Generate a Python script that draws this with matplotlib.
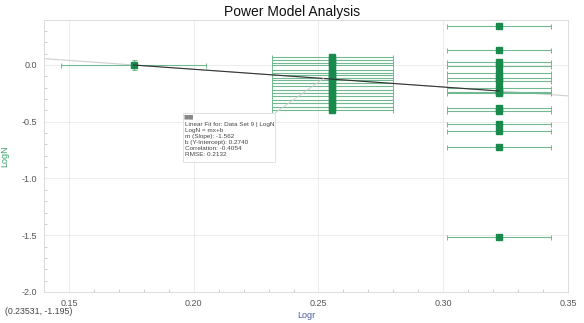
import numpy as np
import matplotlib
matplotlib.use('Agg')
import matplotlib.pyplot as plt
from matplotlib.ticker import MultipleLocator, FormatStrFormatter
from matplotlib.patches import Rectangle

plt.rcParams['font.family'] = ['Liberation Sans', 'DejaVu Sans']

# data
left_x = [0.1759]
left_y = [0.0]
left_xerr = [0.029]
left_yerr = [0.045]

mid_x = 0.2555
mid_xerr = 0.0242
mid_y = [0.068, 0.044, 0.020, -0.003, -0.044, -0.073, -0.090, -0.114, -0.132,
         -0.161, -0.190, -0.219, -0.248, -0.278, -0.307, -0.336, -0.371, -0.401]

right_x = 0.3225
right_xerr = 0.0208
right_y = [0.345, 0.13, 0.026, -0.013, -0.07, -0.118, -0.14, -0.2, -0.237,
           -0.25, -0.38, -0.41, -0.52, -0.58, -0.72, -1.52]

slope = -1.562
intercept = 0.2740
fit_text = ['Linear Fit for: Data Set 9 | LogN', 'LogN = mx+b',
            'm (Slope): -1.562', 'b (Y-Intercept): 0.2740',
            'Correlation: -0.4054', 'RMSE: 0.2132']
cursor = '(0.23531, -1.195)'

mark_col = '#178a4c'
err_col = '#72b890'

fig = plt.figure(figsize=(5.84, 3.23), dpi=100)
ax = fig.add_axes([0.0753, 0.096, 0.8973, 0.8436])
ax.set_xlim(0.14, 0.35)
ax.set_ylim(-2.0, 0.4)

ax.xaxis.set_major_locator(MultipleLocator(0.05))
ax.xaxis.set_minor_locator(MultipleLocator(0.01))
ax.yaxis.set_major_locator(MultipleLocator(0.5))
ax.yaxis.set_minor_locator(MultipleLocator(0.1))
ax.xaxis.set_major_formatter(FormatStrFormatter('%.2f'))
ax.yaxis.set_major_formatter(FormatStrFormatter('%.1f'))
ax.tick_params(which='both', direction='in', colors='#c8c8c8', labelcolor='#555555',
               labelsize=6.5, pad=5)
ax.tick_params(which='major', length=0)
ax.tick_params(which='minor', length=2.5, width=0.6)
ax.grid(True, which='major', color='#ececec', lw=0.7)
for s in ax.spines.values():
    s.set_color('#dcdcdc')
    s.set_linewidth(0.7)
ax.set_axisbelow(True)

# fit line: full extension light, data range dark
xs_all = np.array(ax.get_xlim())
ax.plot(xs_all, slope * xs_all + intercept, color='#cfcfcf', lw=0.8, zorder=2)
xs = np.array([left_x[0], right_x])
ax.plot(xs, slope * xs + intercept, color='#333333', lw=0.8, zorder=5)

ek = dict(fmt='s', color=mark_col, ms=4, ecolor=err_col, elinewidth=0.8,
          capsize=1.8, capthick=0.7, zorder=4)
ax.errorbar(left_x, left_y, xerr=left_xerr, yerr=left_yerr, **ek)
ax.errorbar([mid_x] * len(mid_y), mid_y, xerr=mid_xerr, **ek)
ax.errorbar([right_x] * len(right_y), right_y, xerr=right_xerr, **ek)

# fit info box with connector
bx0, by0, bx1, by1 = 0.2653, 0.4771, 0.4408, 0.6569
ax.add_patch(Rectangle((bx0, by0), bx1 - bx0, by1 - by0, transform=ax.transAxes,
                       fc='white', ec='#dddddd', lw=0.6, zorder=6))
xc = 0.252
ax.annotate('', xy=(xc, slope * xc + intercept), xytext=(bx1, by1),
            textcoords='axes fraction',
            arrowprops=dict(arrowstyle='-', color='#d0d0d0', lw=0.7,
                            shrinkA=0, shrinkB=0), zorder=5)
ax.text(0.270, 0.623, '\n'.join(fit_text), transform=ax.transAxes,
        ha='left', va='top', fontsize=4.6, color='#444444', linespacing=1.25, zorder=7)
ax.text(0.266, 0.644, '\u25a0\u25a0', transform=ax.transAxes, fontsize=4,
        color='#888888', ha='left', va='center', family='DejaVu Sans', zorder=7)

fig.suptitle('Power Model Analysis', fontsize=10, color='#111111', x=0.5, y=0.985,
             va='top')
ax.set_xlabel('Logr', fontsize=6.5, color='#4a5aa0', labelpad=2)
ax.set_ylabel('LogN', fontsize=6.5, color='#3aa06a', labelpad=9)
fig.text(0.009, 0.035, cursor, fontsize=6.3, color='#444444', ha='left', va='center')

fig.savefig('out.png', dpi=100)
